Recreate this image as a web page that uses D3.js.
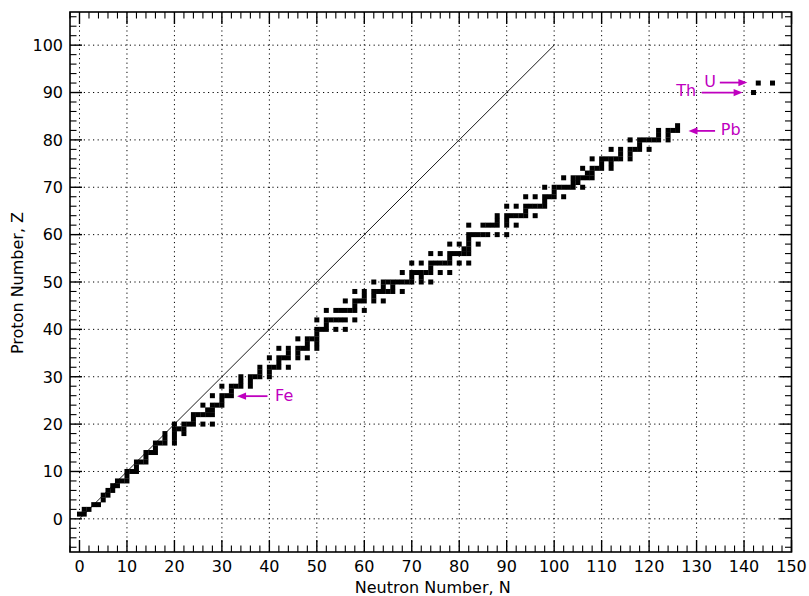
<!DOCTYPE html>
<html><head><meta charset="utf-8">
<script src="https://cdn.jsdelivr.net/npm/d3@7"></script>
<style>body{margin:0;background:#fff} text{font-family:"DejaVu Sans",sans-serif}</style>
</head><body><svg id="c" width="809" height="596"></svg>
<script>
// Proton number Z of each element and neutron numbers N of its naturally occurring (primordial) nuclides
const protonNumbers = [1,2,3,4,5,6,7,8,9,10,11,12,13,14,15,16,17,18,19,20,21,22,23,24,25,26,27,28,29,30,
  31,32,33,34,35,36,37,38,39,40,41,42,44,45,46,47,48,49,50,51,52,53,54,55,56,57,58,59,60,62,
  63,64,65,66,67,68,69,70,71,72,73,74,75,76,77,78,79,80,81,82,83,90,92];
const neutronNumbers = [
  [0,1],[1,2],[3,4],[5],[5,6],[6,7],[7,8],[8,9,10],[10],[10,11,12],
  [12],[12,13,14],[14],[14,15,16],[16],[16,17,18,20],[18,20],[18,20,22],[20,21,22],[20,22,23,24,26,28],
  [24],[24,25,26,27,28],[27,28],[26,28,29,30],[30],[28,30,31,32],[32],[30,32,33,34,36],[34,36],[34,36,37,38,40],
  [38,40],[38,40,41,42,44],[42],[40,42,43,44,46,48],[44,46],[42,44,46,47,48,50],[48,50],[46,48,49,50],[50],[50,51,52,54,56],
  [52],[50,52,53,54,55,56,58],[52,54,55,56,57,58,60],[58],[56,58,59,60,62,64],[60,62],[58,60,62,63,64,65,66,68],[64,66],
  [62,64,65,66,67,68,69,70,72,74],[70,72],[68,70,71,72,73,74,76,78],[74],[70,72,74,75,76,77,78,80,82],[78],
  [74,76,78,79,80,81,82],[81,82],[78,80,82,84],[82],[82,83,84,85,86,88,90],[82,85,86,87,88,90,92],
  [88,90],[88,90,91,92,93,94,96],[94],[90,92,94,95,96,97,98],[98],[94,96,98,99,100,102],[100],
  [98,100,101,102,103,104,106],[104,105],[102,104,105,106,107,108],[107,108],[106,108,109,110,112],[110,112],
  [108,110,111,112,113,114,116],[114,116],[112,114,116,117,118,120],[118],[116,118,119,120,121,122,124],
  [122,124],[122,124,125,126],[126],[142],[143,146]
];
const xTickValues = d3.range(0, 151, 10);
const yTickValues = d3.range(0, 101, 10);
const xMinorValues = d3.range(-2, 151, 2);
const yMinorValues = d3.range(-6, 107, 2);
const diagonalN = [0, 100];
const diagonalZ = [0, 100];
// annotations (data coordinates)
const annLabels = ["Fe", "Pb", "Th", "U"];
const annTextN = [41.2, 135.1, 129.9, 131.6];
const annTextZ = [26.0, 82.2, 90.4, 92.3];
const annAnchor = ["start", "start", "end", "start"];
const arrowFromN = [39.6, 133.9, 131.1, 134.9];
const arrowToN = [33.2, 128.3, 139.7, 140.7];
const arrowZ = [25.9, 81.9, 90.0, 92.1];

const svg = d3.select("#c");
const x = d3.scaleLinear().domain([-2, 150]).range([70, 791.5]);
const y = d3.scaleLinear().domain([-7, 107]).range([552, 12]);
const L = 70, R = 791.5, T = 12, B = 552;
const magenta = "#bf00bf";

// grid
const g = svg.append("g");
g.selectAll("line.gx").data(xTickValues).join("line")
  .attr("x1", d => x(d)).attr("x2", d => x(d)).attr("y1", T).attr("y2", B)
  .attr("stroke", "#000").attr("stroke-width", 1).attr("stroke-dasharray", "1.2,3.4");
g.selectAll("line.gy").data(yTickValues).join("line")
  .attr("y1", d => y(d)).attr("y2", d => y(d)).attr("x1", L).attr("x2", R)
  .attr("stroke", "#000").attr("stroke-width", 1).attr("stroke-dasharray", "1.2,3.4");

// nuclides
const points = [];
protonNumbers.forEach((z, i) => neutronNumbers[i].forEach(n => points.push({n, z})));
const s = 5;
svg.append("g").selectAll("rect").data(points).join("rect")
  .attr("x", d => x(d.n) - s / 2).attr("y", d => y(d.z) - s / 2)
  .attr("width", s).attr("height", s).attr("fill", "#000");

// diagonal N = Z
svg.append("line")
  .attr("x1", x(diagonalN[0])).attr("y1", y(diagonalZ[0]))
  .attr("x2", x(diagonalN[1])).attr("y2", y(diagonalZ[1]))
  .attr("stroke", "#000").attr("stroke-width", 0.9);

// ticks (inward, all four sides)
const tk = svg.append("g").attr("stroke", "#000");
const majL = 12, minL = 6.5;
xMinorValues.forEach(v => {
  const isMaj = v % 10 === 0;
  const len = isMaj ? majL : minL;
  tk.append("line").attr("x1", x(v)).attr("x2", x(v)).attr("y1", B).attr("y2", B - len).attr("stroke-width", isMaj ? 1.4 : 1.1);
  tk.append("line").attr("x1", x(v)).attr("x2", x(v)).attr("y1", T).attr("y2", T + len).attr("stroke-width", isMaj ? 1.4 : 1.1);
});
yMinorValues.forEach(v => {
  const isMaj = v % 10 === 0 && v >= 0 && v <= 100;
  const len = isMaj ? majL : minL;
  tk.append("line").attr("y1", y(v)).attr("y2", y(v)).attr("x1", L).attr("x2", L + len).attr("stroke-width", isMaj ? 1.4 : 1.1);
  tk.append("line").attr("y1", y(v)).attr("y2", y(v)).attr("x1", R).attr("x2", R - len).attr("stroke-width", isMaj ? 1.4 : 1.1);
});

// frame
svg.append("rect").attr("x", L).attr("y", T).attr("width", R - L).attr("height", B - T)
  .attr("fill", "none").attr("stroke", "#000").attr("stroke-width", 1.6);

// tick labels
svg.append("g").selectAll("text").data(xTickValues).join("text")
  .attr("x", d => x(d)).attr("y", 571.5).attr("text-anchor", "middle")
  .attr("font-size", 16).attr("fill", "#000").text(d => d);
svg.append("g").selectAll("text").data(yTickValues).join("text")
  .attr("x", 63).attr("y", d => y(d) + 5.8).attr("text-anchor", "end")
  .attr("font-size", 16).attr("fill", "#000").text(d => d);

// axis labels
svg.append("text").attr("x", (L + R) / 2 + 2).attr("y", 592.5).attr("text-anchor", "middle")
  .attr("font-size", 16).text("Neutron Number, N");
svg.append("text").attr("transform", `translate(23.3,${(T + B) / 2 + 1}) rotate(-90)`)
  .attr("text-anchor", "middle").attr("font-size", 16).text("Proton Number, Z");

// annotations
const ann = svg.append("g");
annLabels.forEach((lab, i) => {
  ann.append("text").attr("x", x(annTextN[i])).attr("y", y(annTextZ[i]) + 5.8)
    .attr("text-anchor", annAnchor[i]).attr("font-size", 16).attr("fill", magenta).text(lab);
  const x0 = x(arrowFromN[i]), x1 = x(arrowToN[i]), yy = y(arrowZ[i]);
  const dir = Math.sign(x1 - x0);
  const hl = 9, hw = 3.6;
  ann.append("line").attr("x1", x0).attr("x2", x1 - dir * hl * 0.8).attr("y1", yy).attr("y2", yy)
    .attr("stroke", magenta).attr("stroke-width", 1.8);
  ann.append("path")
    .attr("d", `M${x1},${yy} L${x1 - dir * hl},${yy - hw} L${x1 - dir * hl},${yy + hw} Z`)
    .attr("fill", magenta);
});
</script></body></html>
